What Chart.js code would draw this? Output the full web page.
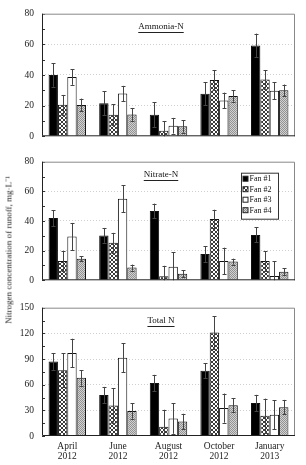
<!DOCTYPE html>
<html><head><meta charset="utf-8">
<script src="https://cdn.jsdelivr.net/npm/chart.js@4"></script>
<style>
html,body{margin:0;padding:0;background:#fff;}
body{width:306px;height:465px;position:relative;overflow:hidden;}
canvas{position:absolute;left:0;}
#ylabel{position:absolute;left:8px;top:250px;transform:translate(-50%,-50%) rotate(-90deg);white-space:nowrap;
 font-family:"Liberation Serif","Times New Roman",serif;font-size:9px;color:#222;}
</style></head><body>
<canvas id="c1" width="306" height="150" style="top:0px"></canvas>
<canvas id="c2" width="306" height="146" style="top:148px"></canvas>
<canvas id="c3" width="306" height="171" style="top:294px"></canvas>
<div id="ylabel">Nitrogen concentration of runoff, mg·L⁻¹</div>
<script>
// ---- data ----
const categories = [["April","2012"],["June","2012"],["August","2012"],["October","2012"],["January","2013"]];
const fanLabels = ["Fan #1","Fan #2","Fan #3","Fan #4"];

const ammoniaFan1 = [40, 21.6, 14.1, 27.7, 59.3];
const ammoniaFan2 = [20.6, 14, 3.7, 36.7, 37.1];
const ammoniaFan3 = [38.7, 27.9, 6.9, 23.4, 29.7];
const ammoniaFan4 = [20.4, 14.3, 6.5, 26.3, 30];
const ammoniaErr1 = [7.7, 7.7, 8, 7.5, 7.7];
const ammoniaErr2 = [6.4, 6.8, 6.3, 6.3, 6];
const ammoniaErr3 = [5.1, 5, 5.1, 5.1, 5.5];
const ammoniaErr4 = [4.2, 4.2, 4.1, 3.7, 3.8];

const nitrateFan1 = [42, 30.3, 46.8, 17.7, 30.6];
const nitrateFan2 = [13, 25.3, 2.8, 41.3, 13];
const nitrateFan3 = [29.5, 55, 9.2, 13, 2.9];
const nitrateFan4 = [14.5, 8.6, 4.5, 12.6, 5.7];
const nitrateErr1 = [5.4, 5, 4.9, 5.3, 5.1];
const nitrateErr2 = [6.9, 6.7, 7, 6.3, 6.5];
const nitrateErr3 = [9.2, 9, 9.6, 9, 9.8];
const nitrateErr4 = [1.8, 2, 2.4, 2, 2.4];

const totalFan1 = [87, 47.8, 61.9, 76.3, 38.5];
const totalFan2 = [77, 35.6, 10.7, 121, 23.7];
const totalFan3 = [97, 91.5, 20.4, 32.6, 24.8];
const totalFan4 = [68, 29.3, 17, 36, 33.7];
const totalErr1 = [9.7, 9.6, 9.6, 9, 9.6];
const totalErr2 = [20, 20, 20, 19, 20];
const totalErr3 = [16.7, 16.7, 17.8, 17, 17];
const totalErr4 = [9, 9, 9, 8.4, 8.5];

const ticksNH = [0, 20, 40, 60, 80];
const ticksNO = [0, 20, 40, 60, 80];
const ticksTN = [0, 30, 60, 90, 120, 150];

// ---- styles ----
const FONT = '"Liberation Serif","Times New Roman",serif';
Chart.defaults.font.family = FONT;

function makePattern(size, draw) {
  const c = document.createElement('canvas');
  c.width = size; c.height = size;
  const x = c.getContext('2d');
  draw(x);
  return x.createPattern(c, 'repeat');
}
const hatch2 = makePattern(4, x => {
  x.fillStyle = '#fff'; x.fillRect(0,0,4,4);
  x.fillStyle = '#3a3a3a';
  for (let i=0;i<4;i++){ x.fillRect(i,i,1,1); x.fillRect(3-i,i,1,1); }
});
const hatch4 = makePattern(2, x => {
  x.fillStyle = '#d2d2d2'; x.fillRect(0,0,2,2);
  x.fillStyle = '#929292'; x.fillRect(0,0,1,1); x.fillRect(1,1,1,1);
});
const fills = ['#000', hatch2, '#fff', hatch4];

const panelPlugin = {
  id: 'panel',
  beforeDatasetsDraw(chart, args, opts) {
    const {ctx, chartArea: a} = chart;
    const y = chart.scales.y;
    ctx.save();
    ctx.strokeStyle = '#333'; ctx.lineWidth = 1;
    const step = opts.minor;
    for (let v = 0; v <= y.max + 1e-9; v += step) {
      const py = Math.round(y.getPixelForValue(v)) + 0.5;
      ctx.beginPath(); ctx.moveTo(a.left, py); ctx.lineTo(a.left + 3, py); ctx.stroke();
    }
    ctx.restore();
  },
  afterDatasetsDraw(chart, args, opts) {
    const {ctx, chartArea: a} = chart;
    const y = chart.scales.y;
    ctx.save();
    // error bars
    ctx.strokeStyle = '#444'; ctx.lineWidth = 1;
    chart.data.datasets.forEach((ds, di) => {
      const meta = chart.getDatasetMeta(di);
      meta.data.forEach((bar, i) => {
        const v = ds.data[i], e = ds.err[i];
        const x = Math.round(bar.x) + 0.5;
        const yt = y.getPixelForValue(v + e), yb = y.getPixelForValue(Math.max(0, v - e));
        ctx.beginPath();
        ctx.moveTo(x, yt); ctx.lineTo(x, yb);
        ctx.moveTo(x - 2, Math.round(yt)+0.5); ctx.lineTo(x + 2, Math.round(yt)+0.5);
        if (v - e > 0) { ctx.moveTo(x - 2, Math.round(yb)+0.5); ctx.lineTo(x + 2, Math.round(yb)+0.5); }
        ctx.stroke();
      });
    });
    // frame
    ctx.strokeStyle = '#888';
    ctx.beginPath();
    ctx.moveTo(a.left, a.top + 0.5); ctx.lineTo(a.right - 0.5, a.top + 0.5); ctx.lineTo(a.right - 0.5, a.bottom);
    ctx.stroke();
    ctx.strokeStyle = '#222';
    ctx.beginPath();
    ctx.moveTo(a.left + 0.5, a.top); ctx.lineTo(a.left + 0.5, a.bottom - 0.5); ctx.lineTo(a.right, a.bottom - 0.5);
    ctx.stroke();
    // title
    ctx.font = '9px ' + FONT;
    ctx.fillStyle = '#111';
    ctx.textAlign = 'center'; ctx.textBaseline = 'middle';
    const tx = 161, ty = a.top + 13;
    ctx.fillText(opts.title, tx, ty);
    const w = ctx.measureText(opts.title).width;
    ctx.beginPath(); ctx.moveTo(tx - w/2, Math.round(ty + 5) + 0.5); ctx.lineTo(tx + w/2, Math.round(ty + 5) + 0.5); ctx.stroke();
    // legend
    if (opts.legend) {
      const bx = 241.5, by = a.top + 11.5, bw = 37, bh = 46;
      ctx.fillStyle = '#fff'; ctx.fillRect(bx, by, bw, bh);
      ctx.strokeStyle = '#333'; ctx.strokeRect(bx, by, bw, bh);
      ctx.textAlign = 'left';
      ctx.font = '8px ' + FONT;
      chart.data.datasets.forEach((ds, i) => {
        const cy = by + 5.5 + i * 10.5;
        ctx.fillStyle = ds.backgroundColor;
        ctx.fillRect(bx + 1.5, cy - 2.5, 5, 5);
        ctx.strokeStyle = '#222';
        ctx.strokeRect(bx + 1.5, cy - 2.5, 5, 5);
        ctx.fillStyle = '#111';
        ctx.fillText(ds.label, bx + 8, cy + 0.5);
      });
    }
    ctx.restore();
  }
};

function makeChart(id, title, series, errors, ticks, showX, showLegend, pad, xHeight) {
  const max = ticks[ticks.length - 1];
  const step = ticks[1] - ticks[0];
  return new Chart(document.getElementById(id), {
    type: 'bar',
    data: {
      labels: categories,
      datasets: series.map((d, i) => ({
        label: fanLabels[i], data: d, err: errors[i],
        backgroundColor: fills[i], borderColor: '#111', borderWidth: 1,
        categoryPercentage: 0.74, barPercentage: 1.0
      }))
    },
    options: {
      responsive: false, animation: false, devicePixelRatio: 1,
      layout: { padding: pad },
      events: [],
      plugins: { legend: { display: false }, tooltip: { enabled: false },
        panel: { title: title, legend: showLegend, minor: step / 2 } },
      scales: {
        x: {
          display: showX,
          grid: { display: false, drawTicks: false },
          border: { display: false },
          ticks: { color: '#222', font: { size: 9.5, lineHeight: 1.1 }, padding: 5, maxRotation: 0, autoSkip: false },
          afterFit: s => { if (xHeight) s.height = xHeight; }
        },
        y: {
          min: 0, max: max,
          ticks: { stepSize: step, color: '#222', font: { size: 9.5 }, padding: 8 },
          grid: { drawTicks: false, color: c => (c.tick && c.tick.value > 0 && c.tick.value < max) ? '#cfcfcf' : 'rgba(0,0,0,0)', lineWidth: 1 },
          border: { display: false, dash: [1, 2] },
          afterFit: s => { s.width = 42; }
        }
      }
    },
    plugins: [panelPlugin]
  });
}

makeChart('c1', 'Ammonia-N',
  [ammoniaFan1, ammoniaFan2, ammoniaFan3, ammoniaFan4],
  [ammoniaErr1, ammoniaErr2, ammoniaErr3, ammoniaErr4],
  ticksNH, false, false, { top: 8, bottom: 6, left: 0, right: 11 }, 0);
makeChart('c2', 'Nitrate-N',
  [nitrateFan1, nitrateFan2, nitrateFan3, nitrateFan4],
  [nitrateErr1, nitrateErr2, nitrateErr3, nitrateErr4],
  ticksNO, false, true, { top: 5, bottom: 5, left: 0, right: 11 }, 0);
makeChart('c3', 'Total N',
  [totalFan1, totalFan2, totalFan3, totalFan4],
  [totalErr1, totalErr2, totalErr3, totalErr4],
  ticksTN, true, false, { top: 7, bottom: 0, left: 0, right: 11 }, 29);
</script>
</body></html>
